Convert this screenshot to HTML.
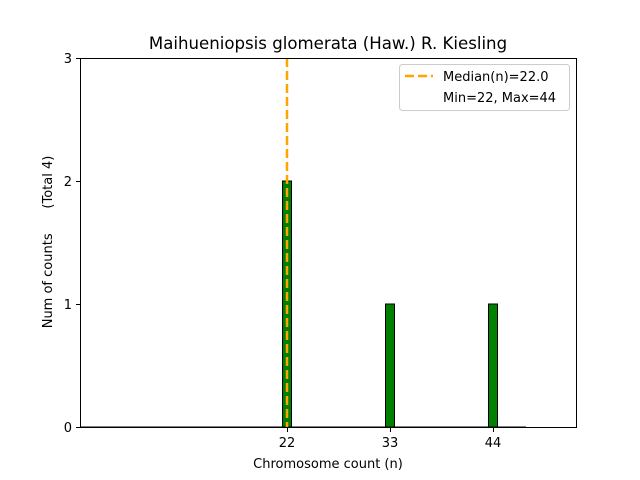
<!DOCTYPE html>
<html><head><meta charset="utf-8"><style>body{margin:0;background:#fff}svg{display:block}text{font-family:"DejaVu Sans","Liberation Sans",sans-serif}</style></head>
<body>
<svg width="640" height="480" xmlns="http://www.w3.org/2000/svg">
<rect width="640" height="480" fill="#fff"/>
<text x="328" y="49" font-size="16.6" text-anchor="middle" fill="#000">Maihueniopsis glomerata (Haw.) R. Kiesling</text>
<line x1="80" y1="427" x2="526" y2="427" stroke="#000" stroke-width="1"/>
<rect x="282.5" y="181" width="9" height="246" fill="green" stroke="#000" stroke-width="1"/>
<rect x="385.5" y="304" width="9" height="123" fill="green" stroke="#000" stroke-width="1"/>
<rect x="488.5" y="304" width="9" height="123" fill="green" stroke="#000" stroke-width="1"/>
<line x1="287" y1="58" x2="287" y2="427" stroke="orange" stroke-width="2.5" stroke-dasharray="9,4"/>
<rect x="80.5" y="58.5" width="496" height="369" fill="none" stroke="#000" stroke-width="1"/>
<g stroke="#000"><line x1="76" y1="427.5" x2="80" y2="427.5"/><line x1="76" y1="304.5" x2="80" y2="304.5"/><line x1="76" y1="181.5" x2="80" y2="181.5"/><line x1="76" y1="58.5" x2="80" y2="58.5"/>
<line x1="287.5" y1="428" x2="287.5" y2="432"/><line x1="390.5" y1="428" x2="390.5" y2="432"/><line x1="493.5" y1="428" x2="493.5" y2="432"/></g>
<g font-size="13" fill="#000" text-anchor="end"><text x="72" y="432">0</text><text x="72" y="309">1</text><text x="72" y="186">2</text><text x="72" y="63">3</text></g>
<g font-size="13" fill="#000" text-anchor="middle"><text x="287" y="447">22</text><text x="390" y="447">33</text><text x="493" y="447">44</text></g>
<text x="328" y="468" font-size="13" text-anchor="middle">Chromosome count (n)</text>
<text transform="translate(52,242) rotate(-90)" font-size="13" text-anchor="middle" style="white-space:pre" xml:space="preserve">Num of counts      (Total 4)</text>
<rect x="399.5" y="64.5" width="170" height="46" rx="3" fill="#fff" fill-opacity="0.8" stroke="#ccc"/>
<line x1="405" y1="76" x2="433" y2="76" stroke="orange" stroke-width="2.5" stroke-dasharray="9,4"/>
<text x="443" y="81" font-size="13">Median(n)=22.0</text>
<text x="443" y="102" font-size="13">Min=22, Max=44</text>
</svg>
</body></html>
